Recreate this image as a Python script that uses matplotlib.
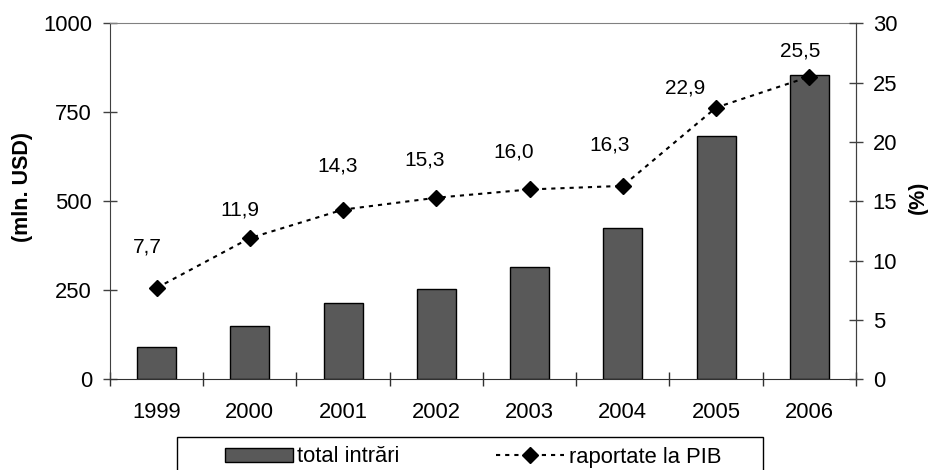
import matplotlib
matplotlib.use("Agg")
import matplotlib.pyplot as plt
from matplotlib.patches import Rectangle, Patch
from matplotlib.lines import Line2D
from matplotlib.ticker import FixedLocator, NullFormatter

# ---- data ----
years = ["1999", "2000", "2001", "2002", "2003", "2004", "2005", "2006"]
total_intrari = [90, 151, 213, 254, 316, 424, 683, 854]        # mln. USD
raport_pib = [7.7, 11.9, 14.3, 15.3, 16.0, 16.3, 22.9, 25.5]   # %
left_ticks = [0, 250, 500, 750, 1000]
right_ticks = [0, 5, 10, 15, 20, 25, 30]
# label offsets (pixels) relative to the points
label_dx = [-9, -10, -5, -12, -16, -13, -31, -9]
label_dy = [41, 28, 44, 38, 37, 41, 20, 26]

plt.rcParams['font.family'] = ['Liberation Sans', 'DejaVu Sans']
FS = 15.8
FS_LAB = 15.0

fig = plt.figure(figsize=(9.29, 4.70), dpi=100)
W, H = 929, 470
x0, x1, ytop, ybot = 110, 856, 23.3, 379.3
ax = fig.add_axes([x0 / W, 1 - ybot / H, (x1 - x0) / W, (ybot - ytop) / H])

x = list(range(len(years)))
ax.bar(x, total_intrari, width=0.42, color="#595959", edgecolor="black",
       linewidth=1.0, zorder=2)
ax.set_xlim(-0.5, len(years) - 0.5)
ax.set_ylim(0, 1000)
ax.set_yticks(left_ticks)
ax.set_yticklabels([str(t) for t in left_ticks], fontsize=FS)
ax.tick_params(axis='y', direction='inout', length=10, width=1, pad=8,
               colors="#404040", labelcolor="black")

# x ticks at boundaries, labels at centres
ax.xaxis.set_major_locator(FixedLocator([i - 0.5 for i in range(len(years) + 1)]))
ax.xaxis.set_major_formatter(NullFormatter())
ax.xaxis.set_minor_locator(FixedLocator(x))
ax.set_xticklabels(years, minor=True, fontsize=FS)
ax.tick_params(axis='x', which='major', direction='inout', length=10, width=1,
               color="#303030")
ax.tick_params(axis='x', which='minor', length=0, pad=16)

ax.spines['top'].set_color("#808080")
ax.spines['left'].set_color("#404040")
ax.spines['right'].set_color("#404040")
ax.spines['bottom'].set_color("#303030")

fig.text(23 / W, 1 - 187 / H, "(mln. USD)", fontsize=15.5, fontweight='bold',
         rotation=90, ha='center', va='center')
fig.text(918 / W, 1 - 197 / H, "(%)", fontsize=15.5, fontweight='bold',
         rotation=90, ha='center', va='center')

ax2 = ax.twinx()
ax2.plot(x, raport_pib, color="black", linestyle=(0, (2, 2.4)), linewidth=1.5,
         marker='D', markersize=8, markerfacecolor="black",
         markeredgecolor="black", zorder=3)
ax2.set_ylim(0, 30)
ax2.set_yticks(right_ticks)
ax2.set_yticklabels([str(t) for t in right_ticks], fontsize=FS)
ax2.tick_params(axis='y', direction='inout', length=10, width=1, pad=7,
                colors="#404040", labelcolor="black")
for s in ax2.spines.values():
    s.set_visible(False)
ax2.spines['right'].set_visible(True)
ax2.spines['right'].set_color("#404040")

for xi, v, dx, dy in zip(x, raport_pib, label_dx, label_dy):
    ax2.annotate(f"{v:.1f}".replace('.', ','), (xi, v), xytext=(dx, dy),
                 textcoords='offset pixels', ha='center', va='center',
                 fontsize=FS_LAB)

# legend
handles = [Patch(facecolor="#595959", edgecolor="black", linewidth=1.0),
           Line2D([], [], color="black", linestyle=(0, (2, 2.4)), linewidth=1.5,
                  marker='D', markersize=8)]
labels = ["total intrări", "raportate la PIB"]
fig.legend(handles, labels, loc='center left',
           bbox_to_anchor=(225 / W, 1 - 457 / H), ncol=2, frameon=False,
           fontsize=FS, handlelength=3.1, handleheight=0.6,
           handletextpad=0.2, columnspacing=4.4, borderpad=0, borderaxespad=0)
fig.patches.append(Rectangle((177 / W, -0.02), (763 - 177) / W, (470 - 437) / H + 0.02,
                             transform=fig.transFigure, fill=False,
                             edgecolor="black", linewidth=1.0))

fig.savefig("out.png", dpi=100)
